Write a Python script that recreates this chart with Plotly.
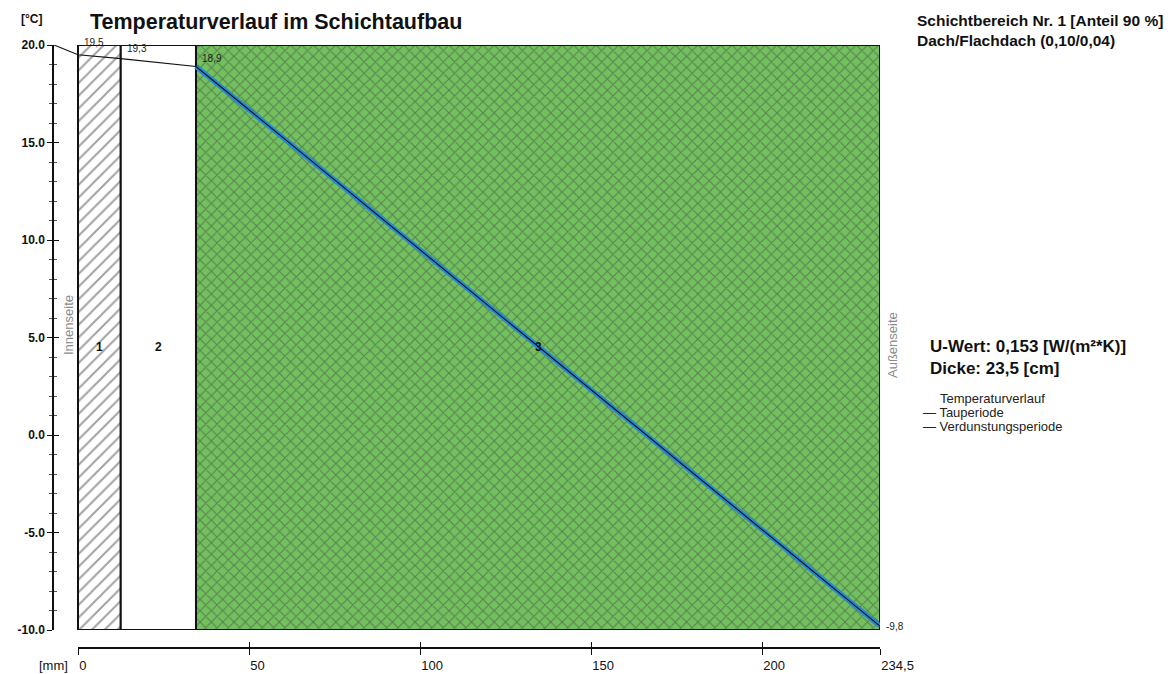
import plotly.graph_objects as go

# ---------------- data ----------------
layer_names = ["1", "2", "3"]
layer_thickness_mm = [12.5, 22.0, 200.0]
layer_pattern = ["/", "", "x"]

interface_x_mm = [0.0, 12.5, 34.5, 234.5]
interface_temp = [19.5, 19.3, 18.9, -9.8]
interface_labels = ["19,5", "19,3", "18,9", "-9,8"]

inside_air_x = -7.0
inside_air_temp = 20.0

x_tick_vals = [0, 50, 100, 150, 200, 234.5]
x_tick_text = ["0", "50", "100", "150", "200", "234,5"]

y_tick_vals = [20, 15, 10, 5, 0, -5, -10]
y_tick_text = ["20.0", "15.0", "10.0", "5.0", "0.0", "-5.0", "-10.0"]

y_min, y_max = -10.0, 20.0
total_mm = 234.5

# ---------------- layout geometry (window pixels) ----------------
OFF = 8  # default page body margin
WIN_W, WIN_H = 1176, 674
FIG_W, FIG_H = WIN_W - OFF, WIN_H - OFF
L, R, T, B = 53, 880, 45, 648
W, H = R - L, B - T
BOX_LEFT_PX = 78
BOX_BOTTOM_PX = 630


def px(xp):
    return (xp - L) / W


def py(yp):
    return (B - yp) / H


mm_per_px = total_mm / (R - BOX_LEFT_PX)
x_range_main = [-(BOX_LEFT_PX - L) * mm_per_px, total_mm]
y_domain = [py(BOX_BOTTOM_PX), 1.0]
x2_domain = [px(BOX_LEFT_PX), 1.0]

FONT = "Liberation Sans, Arial, sans-serif"

# layer centres from thicknesses
starts = []
acc = 0.0
for t in layer_thickness_mm:
    starts.append(acc)
    acc += t
centres = [s + t / 2 for s, t in zip(starts, layer_thickness_mm)]

fig = go.Figure()

# helper traces so that the extra axes render (drawn first, beneath)
fig.add_trace(go.Scatter(x=[None], y=[None], xaxis="x2", yaxis="y", showlegend=False, hoverinfo="skip"))
fig.add_trace(go.Scatter(x=[None], y=[None], xaxis="x3", yaxis="y", showlegend=False, hoverinfo="skip"))
fig.add_trace(go.Scatter(x=[None], y=[None], xaxis="x", yaxis="y3", showlegend=False, hoverinfo="skip"))

# layers
fig.add_trace(go.Bar(
    x=centres,
    y=[y_max - y_min] * len(centres),
    base=[y_min] * len(centres),
    width=layer_thickness_mm,
    marker=dict(
        color=["white", "white", "#72c05e"],
        line=dict(color="#111111", width=2),
        pattern=dict(
            shape=layer_pattern,
            bgcolor=["white", "white", "#78c465"],
            fgcolor=["#000000", "white", "#3f8c36"],
            size=[9, 8, 8],
            solidity=[0.22, 0.2, 0.26],
        ),
    ),
    hoverinfo="skip",
    showlegend=False,
    xaxis="x", yaxis="y",
))

# temperature curve
line_x = [inside_air_x] + interface_x_mm
line_y = [inside_air_temp] + interface_temp
fig.add_trace(go.Scatter(
    x=interface_x_mm[2:], y=interface_temp[2:],
    mode="lines", line=dict(color="#2487d4", width=5),
    hoverinfo="skip", showlegend=False,
))
fig.add_trace(go.Scatter(
    x=line_x, y=line_y,
    mode="lines", line=dict(color="#111111", width=1.1),
    hoverinfo="skip", showlegend=False,
))

annotations = []

# interface values
yshifts = [12, 10, 8, 0]
for xv, tv, lab, ys in zip(interface_x_mm, interface_temp, interface_labels, yshifts):
    annotations.append(dict(
        x=xv, y=tv, xref="x", yref="y", text=lab, showarrow=False,
        xanchor="left", yanchor="middle", xshift=4, yshift=ys,
        font=dict(family=FONT, size=10, color="#222222"),
    ))

# layer numbers
for c, name in zip(centres, layer_names):
    annotations.append(dict(
        x=c, y=4.5, xref="x", yref="y", text="<b>%s</b>" % name, showarrow=False,
        font=dict(family=FONT, size=12, color="#111111"),
    ))

# side labels
annotations.append(dict(
    x=px(68), y=py(325), xref="paper", yref="paper", text="Innenseite",
    xanchor="center", yanchor="middle",
    textangle=-90, showarrow=False, font=dict(family=FONT, size=13, color="#8a8a8a"),
))
annotations.append(dict(
    x=px(892), y=py(345), xref="paper", yref="paper", text="Außenseite",
    xanchor="center", yanchor="middle",
    textangle=-90, showarrow=False, font=dict(family=FONT, size=13, color="#8a8a8a"),
))

# title and unit labels
annotations.append(dict(
    x=px(88), y=py(22), xref="paper", yref="paper",
    text="<b>Temperaturverlauf im Schichtaufbau</b>", showarrow=False,
    xanchor="left", yanchor="middle", font=dict(family=FONT, size=21.5, color="#111111"),
))
annotations.append(dict(
    x=px(19), y=py(19), xref="paper", yref="paper", text="<b>[°C]</b>", showarrow=False,
    xanchor="left", yanchor="middle", font=dict(family=FONT, size=12, color="#111111"),
))
annotations.append(dict(
    x=px(70), y=py(665), xref="paper", yref="paper", text="[mm]", showarrow=False,
    xanchor="right", yanchor="middle", font=dict(family=FONT, size=13, color="#111111"),
))

# right side info
annotations.append(dict(
    x=px(915), y=py(30), xref="paper", yref="paper",
    text="<b>Schichtbereich Nr. 1 [Anteil 90 %]</b><br><b>Dach/Flachdach (0,10/0,04)</b>",
    showarrow=False, xanchor="left", yanchor="middle", align="left",
    font=dict(family=FONT, size=15.5, color="#111111"),
))
annotations.append(dict(
    x=px(928), y=py(357), xref="paper", yref="paper",
    text="<b>U-Wert: 0,153 [W/(m²*K)]</b><br><b>Dicke: 23,5 [cm]</b>",
    showarrow=False, xanchor="left", yanchor="middle", align="left",
    font=dict(family=FONT, size=17, color="#111111"),
))
annotations.append(dict(
    x=px(938), y=py(398), xref="paper", yref="paper", text="Temperaturverlauf",
    showarrow=False, xanchor="left", yanchor="middle",
    font=dict(family=FONT, size=13, color="#222222"),
))
for yy, lab in [(412, "Tauperiode"), (426, "Verdunstungsperiode")]:
    annotations.append(dict(
        x=px(921), y=py(yy), xref="paper", yref="paper", text="— " + lab,
        showarrow=False, xanchor="left", yanchor="middle",
        font=dict(family=FONT, size=13, color="#222222"),
    ))

fig.update_layout(
    width=FIG_W, height=FIG_H,
    margin=dict(l=L - OFF, r=FIG_W - (R - OFF), t=T - OFF, b=FIG_H - (B - OFF),
                pad=0, autoexpand=False),
    paper_bgcolor="white", plot_bgcolor="rgba(0,0,0,0)",
    showlegend=False,
    font=dict(family=FONT, color="#111111"),
    xaxis=dict(domain=[0, 1], range=x_range_main, visible=False, fixedrange=True,
               automargin=False),
    xaxis2=dict(
        domain=x2_domain, range=[0, total_mm], anchor="free", position=0, automargin=False,
        showline=True, linecolor="#111111", linewidth=1.5, showgrid=False, zeroline=False,
        ticks="outside", ticklen=6, tickwidth=1.2, tickcolor="#111111",
        tickvals=x_tick_vals, ticktext=x_tick_text, ticklabelposition="outside right",
        ticklabelstandoff=6,
        tickfont=dict(family=FONT, size=13, color="#111111"),
    ),
    xaxis3=dict(
        domain=x2_domain, range=[0, total_mm], anchor="free", position=0, automargin=False,
        showline=False, showgrid=False, zeroline=False,
        ticks="inside", ticklen=6, tickwidth=1.2, tickcolor="#111111",
        tickvals=x_tick_vals, showticklabels=False,
    ),
    yaxis=dict(
        domain=y_domain, range=[y_min, y_max], anchor="free", position=0, automargin=False,
        showline=True, linecolor="#111111", linewidth=1.5, showgrid=False, zeroline=False,
        ticks="outside", ticklen=5, tickwidth=1.2, tickcolor="#111111",
        tickvals=y_tick_vals, ticktext=y_tick_text,
        tickfont=dict(family=FONT, size=12, color="#111111", weight="bold"),
        minor=dict(dtick=1, ticks="outside", ticklen=3, tickcolor="#555555", showgrid=False),
    ),
    yaxis3=dict(
        domain=y_domain, range=[y_min, y_max], anchor="free", position=0, automargin=False,
        showline=False, showgrid=False, zeroline=False,
        ticks="inside", ticklen=5, tickwidth=1.2, tickcolor="#111111",
        tickvals=y_tick_vals, showticklabels=False,
        minor=dict(dtick=1, ticks="inside", ticklen=3, tickcolor="#555555", showgrid=False),
    ),
    annotations=annotations,
)

fig.write_html("out.html")
